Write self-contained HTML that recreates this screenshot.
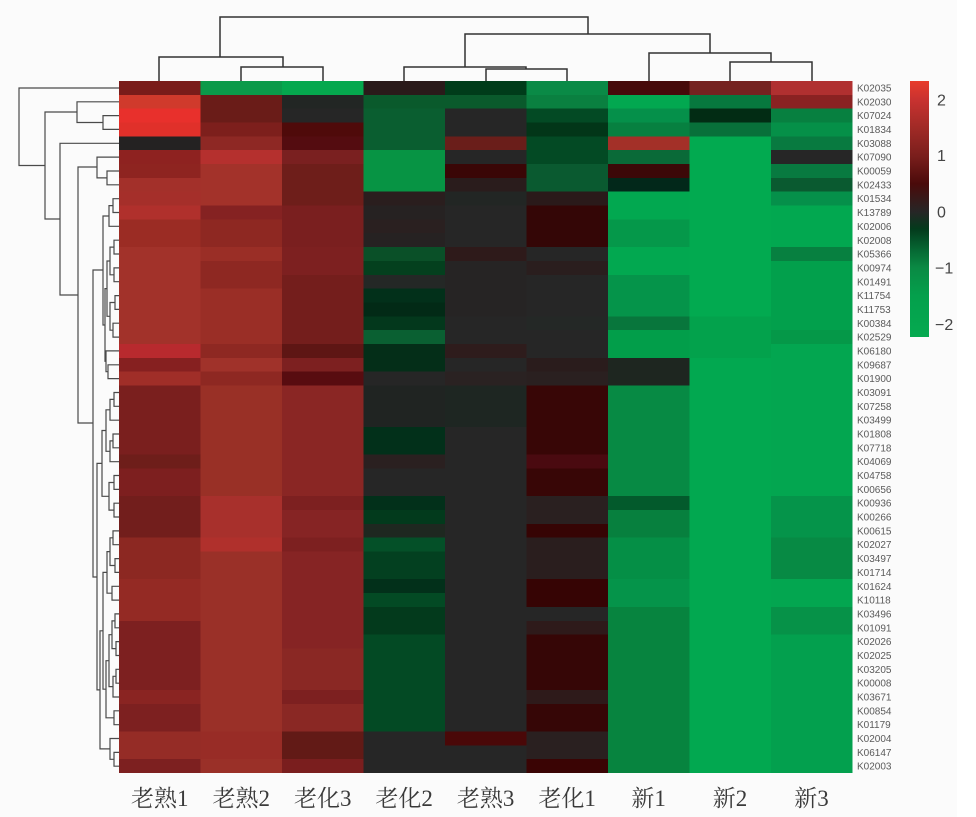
<!DOCTYPE html>
<html>
<head>
<meta charset="utf-8">
<style>
html,body{margin:0;padding:0;background:#fbfbfb;}
svg{display:block;}
.rl{font-family:"Liberation Sans",sans-serif;font-size:10px;fill:#5a5a5a;}
.cl{font-family:"Liberation Serif","Noto Serif CJK SC",serif;font-size:23px;fill:#3a3a3a;}
.tk{font-family:"Liberation Sans",sans-serif;font-size:16px;fill:#444;}
</style>
</head>
<body>
<svg width="976" height="817" viewBox="0 0 976 817" xmlns="http://www.w3.org/2000/svg">
<rect x="0" y="0" width="976" height="817" fill="#fbfbfb"/>
<rect x="957" y="0" width="19" height="817" fill="#ffffff"/>
<defs>
<linearGradient id="cb" x1="0" y1="0" x2="0" y2="1">
<stop offset="0" stop-color="#e83c2c"/>
<stop offset="0.074" stop-color="#c83230"/>
<stop offset="0.184" stop-color="#a02a26"/>
<stop offset="0.293" stop-color="#7a1e1c"/>
<stop offset="0.402" stop-color="#4a0a0a"/>
<stop offset="0.512" stop-color="#262626"/>
<stop offset="0.577" stop-color="#033a1c"/>
<stop offset="0.664" stop-color="#066a34"/>
<stop offset="0.73" stop-color="#0a8a44"/>
<stop offset="0.84" stop-color="#04a04c"/>
<stop offset="1" stop-color="#05aa50"/>
</linearGradient>
</defs>

<!-- heatmap -->
<g transform="translate(119,81) scale(81.48,13.84)" shape-rendering="crispEdges">
<!-- col 0 -->
<rect x="0" y="0" width="1" height="1" fill="#7a1c1a"/>
<rect x="0" y="1" width="1" height="1" fill="#d03a2c"/>
<rect x="0" y="2" width="1" height="1" fill="#e8302c"/>
<rect x="0" y="3" width="1" height="1" fill="#e0302a"/>
<rect x="0" y="4" width="1" height="1" fill="#242222"/>
<rect x="0" y="5" width="1" height="1" fill="#8e2220"/>
<rect x="0" y="6" width="1" height="1" fill="#8e2420"/>
<rect x="0" y="7" width="1" height="1" fill="#a3302a"/>
<rect x="0" y="8" width="1" height="1" fill="#a52f2a"/>
<rect x="0" y="9" width="1" height="1" fill="#b0302c"/>
<rect x="0" y="10" width="1" height="2" fill="#9b2c24"/>
<rect x="0" y="12" width="1" height="7" fill="#a2322a"/>
<rect x="0" y="19" width="1" height="1" fill="#b82a2e"/>
<rect x="0" y="20" width="1" height="1" fill="#862020"/>
<rect x="0" y="21" width="1" height="1" fill="#a02e28"/>
<rect x="0" y="22" width="1" height="5" fill="#7a1f1e"/>
<rect x="0" y="27" width="1" height="1" fill="#6e1e1a"/>
<rect x="0" y="28" width="1" height="2" fill="#7d1f1f"/>
<rect x="0" y="30" width="1" height="3" fill="#721e1c"/>
<rect x="0" y="33" width="1" height="3" fill="#8c2822"/>
<rect x="0" y="36" width="1" height="3" fill="#942a24"/>
<rect x="0" y="39" width="1" height="5" fill="#7d2020"/>
<rect x="0" y="44" width="1" height="1" fill="#8a2422"/>
<rect x="0" y="45" width="1" height="2" fill="#7d2020"/>
<rect x="0" y="47" width="1" height="2" fill="#952c26"/>
<rect x="0" y="49" width="1" height="1" fill="#7d2020"/>
<!-- col 1 -->
<rect x="1" y="0" width="1" height="1" fill="#0b9a4a"/>
<rect x="1" y="1" width="1" height="2" fill="#6a1c18"/>
<rect x="1" y="3" width="1" height="1" fill="#7d1f1c"/>
<rect x="1" y="4" width="1" height="1" fill="#8e2824"/>
<rect x="1" y="5" width="1" height="1" fill="#b5302e"/>
<rect x="1" y="6" width="1" height="3" fill="#a3322a"/>
<rect x="1" y="9" width="1" height="1" fill="#852222"/>
<rect x="1" y="10" width="1" height="2" fill="#8e2822"/>
<rect x="1" y="12" width="1" height="1" fill="#9a2e26"/>
<rect x="1" y="13" width="1" height="2" fill="#8e2822"/>
<rect x="1" y="15" width="1" height="4" fill="#9a2e26"/>
<rect x="1" y="19" width="1" height="1" fill="#8e2822"/>
<rect x="1" y="20" width="1" height="1" fill="#a0322a"/>
<rect x="1" y="21" width="1" height="1" fill="#8e2822"/>
<rect x="1" y="22" width="1" height="8" fill="#993026"/>
<rect x="1" y="30" width="1" height="3" fill="#a8302c"/>
<rect x="1" y="33" width="1" height="1" fill="#b0302c"/>
<rect x="1" y="34" width="1" height="13" fill="#9a3028"/>
<rect x="1" y="47" width="1" height="2" fill="#982c26"/>
<rect x="1" y="49" width="1" height="1" fill="#9a3028"/>
<!-- col 2 -->
<rect x="2" y="0" width="1" height="1" fill="#05a84e"/>
<rect x="2" y="1" width="1" height="1" fill="#222624"/>
<rect x="2" y="2" width="1" height="1" fill="#262626"/>
<rect x="2" y="3" width="1" height="1" fill="#4f0a0a"/>
<rect x="2" y="4" width="1" height="1" fill="#540c10"/>
<rect x="2" y="5" width="1" height="1" fill="#7a2020"/>
<rect x="2" y="6" width="1" height="3" fill="#6e1e1a"/>
<rect x="2" y="9" width="1" height="3" fill="#7a1f1f"/>
<rect x="2" y="12" width="1" height="2" fill="#7d2020"/>
<rect x="2" y="14" width="1" height="5" fill="#741e1c"/>
<rect x="2" y="19" width="1" height="1" fill="#5e1614"/>
<rect x="2" y="20" width="1" height="1" fill="#7d2020"/>
<rect x="2" y="21" width="1" height="1" fill="#580c10"/>
<rect x="2" y="22" width="1" height="8" fill="#8a2624"/>
<rect x="2" y="30" width="1" height="1" fill="#7d2020"/>
<rect x="2" y="31" width="1" height="2" fill="#862424"/>
<rect x="2" y="33" width="1" height="1" fill="#7d2020"/>
<rect x="2" y="34" width="1" height="7" fill="#862424"/>
<rect x="2" y="41" width="1" height="3" fill="#8a2824"/>
<rect x="2" y="44" width="1" height="1" fill="#7d2020"/>
<rect x="2" y="45" width="1" height="2" fill="#8a2824"/>
<rect x="2" y="47" width="1" height="2" fill="#621a16"/>
<rect x="2" y="49" width="1" height="1" fill="#7a1e1e"/>
<!-- col 3 -->
<rect x="3" y="0" width="1" height="1" fill="#2a1a1a"/>
<rect x="3" y="1" width="1" height="1" fill="#0a5a2c"/>
<rect x="3" y="2" width="1" height="3" fill="#0a5e30"/>
<rect x="3" y="5" width="1" height="3" fill="#079444"/>
<rect x="3" y="8" width="1" height="1" fill="#2a1e1e"/>
<rect x="3" y="9" width="1" height="1" fill="#262222"/>
<rect x="3" y="10" width="1" height="1" fill="#2a2020"/>
<rect x="3" y="11" width="1" height="1" fill="#262222"/>
<rect x="3" y="12" width="1" height="1" fill="#0a5028"/>
<rect x="3" y="13" width="1" height="1" fill="#04401e"/>
<rect x="3" y="14" width="1" height="1" fill="#242826"/>
<rect x="3" y="15" width="1" height="1" fill="#02301a"/>
<rect x="3" y="16" width="1" height="1" fill="#022a16"/>
<rect x="3" y="17" width="1" height="1" fill="#03381c"/>
<rect x="3" y="18" width="1" height="1" fill="#0a6032"/>
<rect x="3" y="19" width="1" height="2" fill="#042e18"/>
<rect x="3" y="21" width="1" height="1" fill="#262626"/>
<rect x="3" y="22" width="1" height="3" fill="#202422"/>
<rect x="3" y="25" width="1" height="2" fill="#02301a"/>
<rect x="3" y="27" width="1" height="1" fill="#2a2020"/>
<rect x="3" y="28" width="1" height="2" fill="#262626"/>
<rect x="3" y="30" width="1" height="1" fill="#02301a"/>
<rect x="3" y="31" width="1" height="1" fill="#023a1c"/>
<rect x="3" y="32" width="1" height="1" fill="#1e2820"/>
<rect x="3" y="33" width="1" height="1" fill="#045028"/>
<rect x="3" y="34" width="1" height="2" fill="#034020"/>
<rect x="3" y="36" width="1" height="1" fill="#02301a"/>
<rect x="3" y="37" width="1" height="1" fill="#034a24"/>
<rect x="3" y="38" width="1" height="2" fill="#033a1c"/>
<rect x="3" y="40" width="1" height="7" fill="#034a24"/>
<rect x="3" y="47" width="1" height="3" fill="#262626"/>
<!-- col 4 -->
<rect x="4" y="0" width="1" height="1" fill="#003c1a"/>
<rect x="4" y="1" width="1" height="1" fill="#0a5a2c"/>
<rect x="4" y="2" width="1" height="2" fill="#262626"/>
<rect x="4" y="4" width="1" height="1" fill="#6a1e1a"/>
<rect x="4" y="5" width="1" height="1" fill="#262626"/>
<rect x="4" y="6" width="1" height="1" fill="#3a0606"/>
<rect x="4" y="7" width="1" height="1" fill="#2a1c1c"/>
<rect x="4" y="8" width="1" height="1" fill="#222624"/>
<rect x="4" y="9" width="1" height="3" fill="#262626"/>
<rect x="4" y="12" width="1" height="1" fill="#2e1a1a"/>
<rect x="4" y="13" width="1" height="4" fill="#262424"/>
<rect x="4" y="17" width="1" height="2" fill="#262626"/>
<rect x="4" y="19" width="1" height="1" fill="#2e1c1c"/>
<rect x="4" y="20" width="1" height="1" fill="#262626"/>
<rect x="4" y="21" width="1" height="1" fill="#2a2222"/>
<rect x="4" y="22" width="1" height="3" fill="#1e2622"/>
<rect x="4" y="25" width="1" height="22" fill="#262626"/>
<rect x="4" y="47" width="1" height="1" fill="#4a0808"/>
<rect x="4" y="48" width="1" height="2" fill="#262626"/>
<!-- col 5 -->
<rect x="5" y="0" width="1" height="1" fill="#0a8a46"/>
<rect x="5" y="1" width="1" height="1" fill="#0a8040"/>
<rect x="5" y="2" width="1" height="1" fill="#034a24"/>
<rect x="5" y="3" width="1" height="1" fill="#023618"/>
<rect x="5" y="4" width="1" height="2" fill="#034a24"/>
<rect x="5" y="6" width="1" height="2" fill="#0a5a30"/>
<rect x="5" y="8" width="1" height="1" fill="#2a1a1a"/>
<rect x="5" y="9" width="1" height="3" fill="#340606"/>
<rect x="5" y="12" width="1" height="1" fill="#262626"/>
<rect x="5" y="13" width="1" height="1" fill="#2a1e1e"/>
<rect x="5" y="14" width="1" height="3" fill="#262626"/>
<rect x="5" y="17" width="1" height="1" fill="#242826"/>
<rect x="5" y="18" width="1" height="2" fill="#262626"/>
<rect x="5" y="20" width="1" height="1" fill="#2a1c1c"/>
<rect x="5" y="21" width="1" height="1" fill="#2a2020"/>
<rect x="5" y="22" width="1" height="5" fill="#380606"/>
<rect x="5" y="27" width="1" height="1" fill="#4a0a10"/>
<rect x="5" y="28" width="1" height="2" fill="#380606"/>
<rect x="5" y="30" width="1" height="2" fill="#2a2020"/>
<rect x="5" y="32" width="1" height="1" fill="#360404"/>
<rect x="5" y="33" width="1" height="3" fill="#2a1e1e"/>
<rect x="5" y="36" width="1" height="2" fill="#360404"/>
<rect x="5" y="38" width="1" height="1" fill="#262626"/>
<rect x="5" y="39" width="1" height="1" fill="#2e1a1a"/>
<rect x="5" y="40" width="1" height="4" fill="#360606"/>
<rect x="5" y="44" width="1" height="1" fill="#2e1a1a"/>
<rect x="5" y="45" width="1" height="2" fill="#360606"/>
<rect x="5" y="47" width="1" height="2" fill="#2a2020"/>
<rect x="5" y="49" width="1" height="1" fill="#3a0404"/>
<!-- col 6 -->
<rect x="6" y="0" width="1" height="1" fill="#460a0a"/>
<rect x="6" y="1" width="1" height="1" fill="#02a850"/>
<rect x="6" y="2" width="1" height="1" fill="#05904a"/>
<rect x="6" y="3" width="1" height="1" fill="#078040"/>
<rect x="6" y="4" width="1" height="1" fill="#a33028"/>
<rect x="6" y="5" width="1" height="1" fill="#0a6a38"/>
<rect x="6" y="6" width="1" height="1" fill="#3c0808"/>
<rect x="6" y="7" width="1" height="1" fill="#02281a"/>
<rect x="6" y="8" width="1" height="2" fill="#02a850"/>
<rect x="6" y="10" width="1" height="2" fill="#05984a"/>
<rect x="6" y="12" width="1" height="2" fill="#02a850"/>
<rect x="6" y="14" width="1" height="3" fill="#05944a"/>
<rect x="6" y="17" width="1" height="1" fill="#08763c"/>
<rect x="6" y="18" width="1" height="2" fill="#029e4a"/>
<rect x="6" y="20" width="1" height="2" fill="#1e2620"/>
<rect x="6" y="22" width="1" height="8" fill="#078a44"/>
<rect x="6" y="30" width="1" height="1" fill="#035a2c"/>
<rect x="6" y="31" width="1" height="2" fill="#07803e"/>
<rect x="6" y="33" width="1" height="3" fill="#058f46"/>
<rect x="6" y="36" width="1" height="2" fill="#05944a"/>
<rect x="6" y="38" width="1" height="12" fill="#07843f"/>
<!-- col 7 -->
<rect x="7" y="0" width="1" height="1" fill="#752220"/>
<rect x="7" y="1" width="1" height="1" fill="#07783e"/>
<rect x="7" y="2" width="1" height="1" fill="#022c14"/>
<rect x="7" y="3" width="1" height="1" fill="#08703a"/>
<rect x="7" y="4" width="1" height="13" fill="#02aa50"/>
<rect x="7" y="17" width="1" height="3" fill="#03a24c"/>
<rect x="7" y="20" width="1" height="30" fill="#02a850"/>
<!-- col 8 -->
<rect x="8" y="0" width="1" height="1" fill="#b03030"/>
<rect x="8" y="1" width="1" height="1" fill="#8a2222"/>
<rect x="8" y="2" width="1" height="1" fill="#078040"/>
<rect x="8" y="3" width="1" height="1" fill="#059048"/>
<rect x="8" y="4" width="1" height="1" fill="#087a40"/>
<rect x="8" y="5" width="1" height="1" fill="#262626"/>
<rect x="8" y="6" width="1" height="1" fill="#087a40"/>
<rect x="8" y="7" width="1" height="1" fill="#0a5a30"/>
<rect x="8" y="8" width="1" height="1" fill="#05904a"/>
<rect x="8" y="9" width="1" height="3" fill="#02a850"/>
<rect x="8" y="12" width="1" height="1" fill="#078040"/>
<rect x="8" y="13" width="1" height="5" fill="#02a04c"/>
<rect x="8" y="18" width="1" height="1" fill="#059848"/>
<rect x="8" y="19" width="1" height="11" fill="#03a650"/>
<rect x="8" y="30" width="1" height="3" fill="#05944a"/>
<rect x="8" y="33" width="1" height="3" fill="#078a44"/>
<rect x="8" y="36" width="1" height="2" fill="#03a650"/>
<rect x="8" y="38" width="1" height="2" fill="#069248"/>
<rect x="8" y="40" width="1" height="10" fill="#03a04e"/>
</g>

<!-- top dendrogram -->
<g fill="none" stroke="#333" stroke-width="1.5">
<path d="M220 57 V17 H588 V34"/>
<path d="M159 81 V57 H283 V67"/>
<path d="M241 81 V67 H323 V81"/>
<path d="M465 67 V34 H710 V53"/>
<path d="M404 81 V67 H526 V69"/>
<path d="M486 81 V69 H567 V81"/>
<path d="M649 81 V53 H771 V62"/>
<path d="M730 81 V62 H812 V81"/>
</g>

<!-- left dendrogram -->
<g fill="none" stroke="#4a4a4a" stroke-width="1.2">
<path d="M119 88 H19 V165.5 H45"/>
<path d="M77 112 H45 V219 H60"/>
<path d="M119 101.8 H77 V122.5 H103"/>
<path d="M119 115.6 H103 V129.4 H119"/>
<path d="M119 143.3 H60 V295 H78"/>
<path d="M97 167 H78 V423 H93"/>
<path d="M119 157.1 H97 V177.9 H107"/>
<path d="M119 171 H107 V184.8 H119"/>
<path d="M103 270 H93 V577 H97"/>
<path d="M109 216 H103 V325 H105"/>
<path d="M113 205.6 H109 V226.3 H119"/>
<path d="M119 198.7 H113 V212.5 H119"/>
<path d="M107 288.6 H105 V361.3 H106"/>
<path d="M110 261 H107 V316.3 H110"/>
<path d="M114 247.1 H110 V274.8 H114"/>
<path d="M119 240.2 H114 V254 H119"/>
<path d="M119 267.9 H114 V281.7 H119"/>
<path d="M115 302.5 H110 V330.2 H113"/>
<path d="M119 295.6 H115 V309.4 H119"/>
<path d="M119 323.2 H113 V337.1 H119"/>
<path d="M119 350.9 H106 V371.7 H108"/>
<path d="M119 364.8 H108 V378.6 H119"/>
<path d="M102 463.4 H97 V689.9 H100"/>
<path d="M106 430.5 H102 V496.3 H109"/>
<path d="M110 409.8 H106 V451.3 H110"/>
<path d="M114 399.4 H110 V420.2 H119"/>
<path d="M119 392.5 H114 V406.3 H119"/>
<path d="M113 440.9 H110 V461.7 H119"/>
<path d="M119 434 H113 V447.8 H119"/>
<path d="M114 482.5 H109 V510.1 H114"/>
<path d="M119 475.5 H114 V489.4 H119"/>
<path d="M119 503.2 H114 V517 H119"/>
<path d="M103 630.8 H100 V748.9 H110"/>
<path d="M107 572.4 H103 V689.2 H106"/>
<path d="M110 551.6 H107 V593.2 H112"/>
<path d="M113 537.8 H110 V565.5 H115"/>
<path d="M119 530.9 H113 V544.7 H119"/>
<path d="M119 558.6 H115 V572.4 H119"/>
<path d="M119 586.3 H112 V600.1 H119"/>
<path d="M109 660.7 H106 V717.8 H114"/>
<path d="M112 634.7 H109 V686.6 H113"/>
<path d="M115 620.9 H112 V648.6 H116"/>
<path d="M119 613.9 H115 V627.8 H119"/>
<path d="M119 641.6 H116 V655.5 H119"/>
<path d="M116 676.3 H113 V697 H119"/>
<path d="M119 669.3 H116 V683.2 H119"/>
<path d="M119 710.8 H114 V724.7 H119"/>
<path d="M119 738.5 H110 V759.3 H114"/>
<path d="M119 752.4 H114 V766.2 H119"/>
</g>

<!-- row labels -->
<g class="rl">
<text x="857" y="91.5">K02035</text>
<text x="857" y="105.4">K02030</text>
<text x="857" y="119.2">K07024</text>
<text x="857" y="133.0">K01834</text>
<text x="857" y="146.9">K03088</text>
<text x="857" y="160.7">K07090</text>
<text x="857" y="174.6">K00059</text>
<text x="857" y="188.4">K02433</text>
<text x="857" y="202.2">K01534</text>
<text x="857" y="216.1">K13789</text>
<text x="857" y="229.9">K02006</text>
<text x="857" y="243.8">K02008</text>
<text x="857" y="257.6">K05366</text>
<text x="857" y="271.4">K00974</text>
<text x="857" y="285.3">K01491</text>
<text x="857" y="299.1">K11754</text>
<text x="857" y="313.0">K11753</text>
<text x="857" y="326.8">K00384</text>
<text x="857" y="340.6">K02529</text>
<text x="857" y="354.5">K06180</text>
<text x="857" y="368.3">K09687</text>
<text x="857" y="382.2">K01900</text>
<text x="857" y="396.0">K03091</text>
<text x="857" y="409.8">K07258</text>
<text x="857" y="423.7">K03499</text>
<text x="857" y="437.5">K01808</text>
<text x="857" y="451.4">K07718</text>
<text x="857" y="465.2">K04069</text>
<text x="857" y="479.0">K04758</text>
<text x="857" y="492.9">K00656</text>
<text x="857" y="506.7">K00936</text>
<text x="857" y="520.6">K00266</text>
<text x="857" y="534.4">K00615</text>
<text x="857" y="548.2">K02027</text>
<text x="857" y="562.1">K03497</text>
<text x="857" y="575.9">K01714</text>
<text x="857" y="589.8">K01624</text>
<text x="857" y="603.6">K10118</text>
<text x="857" y="617.4">K03496</text>
<text x="857" y="631.3">K01091</text>
<text x="857" y="645.1">K02026</text>
<text x="857" y="659.0">K02025</text>
<text x="857" y="672.8">K03205</text>
<text x="857" y="686.6">K00008</text>
<text x="857" y="700.5">K03671</text>
<text x="857" y="714.3">K00854</text>
<text x="857" y="728.2">K01179</text>
<text x="857" y="742.0">K02004</text>
<text x="857" y="755.8">K06147</text>
<text x="857" y="769.7">K02003</text>
</g>

<!-- colorbar -->
<rect x="910" y="81" width="19" height="256" fill="url(#cb)"/>
<g class="tk">
<text x="937" y="105.5">2</text>
<text x="937" y="161">1</text>
<text x="937" y="217.5">0</text>
<text x="935" y="273.5">−1</text>
<text x="935" y="330">−2</text>
</g>

<!-- column labels -->
<g class="cl" text-anchor="middle">
<text x="159.7" y="806">老熟1</text>
<text x="241.2" y="806">老熟2</text>
<text x="322.7" y="806">老化3</text>
<text x="404.1" y="806">老化2</text>
<text x="485.6" y="806">老熟3</text>
<text x="567.1" y="806">老化1</text>
<text x="648.6" y="806">新1</text>
<text x="730.0" y="806">新2</text>
<text x="811.5" y="806">新3</text>
</g>
</svg>
</body>
</html>
